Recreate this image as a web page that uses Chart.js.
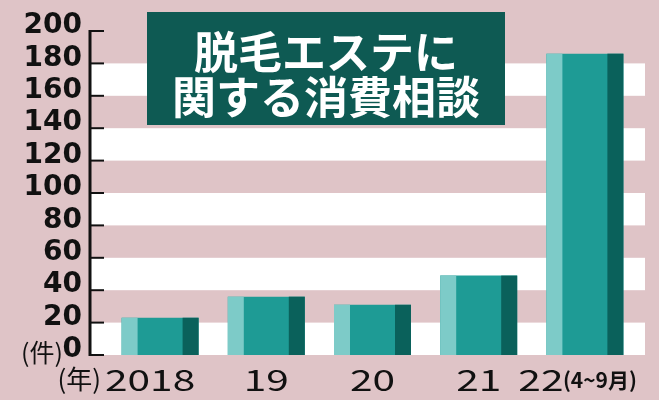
<!DOCTYPE html>
<html>
<head>
<meta charset="utf-8">
<script src="https://cdn.jsdelivr.net/npm/chart.js@4.4.1/dist/chart.umd.min.js"></script>
<style>
  html, body { margin: 0; padding: 0; background: #dfc4c7; }
  #wrap { width: 659px; height: 400px; }
</style>
</head>
<body>
<div id="wrap"><canvas id="c"></canvas></div>
<script>
// data
const years = ['2018', '19', '20', '21', '22'];
const counts = [23, 36, 31, 49, 186];
const yTicks = [0, 20, 40, 60, 80, 100, 120, 140, 160, 180, 200];
const titleLines = ['脱毛エステに', '関する消費相談'];

const PINK = '#dfc4c7';
const LIGHT = '#7dcbc8';
const MID = '#1e9b95';
const DARK = '#0a615b';
const BOX = '#0e5a53';

// background, white bands and the axis line with its little ticks
const backdrop = {
    id: 'backdrop',
    beforeDraw(chart) {
        const ctx = chart.ctx;
        ctx.save();
        ctx.fillStyle = PINK;
        ctx.fillRect(0, 0, chart.width, chart.height);
        const y = chart.scales.y;
        ctx.fillStyle = '#ffffff';
        for (let v = 0; v < 200; v += 40) {
            const top = y.getPixelForValue(v + 20);
            const bot = y.getPixelForValue(v);
            ctx.fillRect(90, top, 555, bot - top);
        }
        ctx.restore();
    },
    afterDraw(chart) {
        const ctx = chart.ctx;
        const y = chart.scales.y;
        const x = chart.scales.x;
        ctx.save();
        ctx.strokeStyle = '#111';
        ctx.lineWidth = 3;
        ctx.beginPath();
        ctx.moveTo(90, y.getPixelForValue(200) - 1);
        ctx.lineTo(90, y.getPixelForValue(0) + 1);
        ctx.stroke();
        ctx.lineWidth = 2;
        yTicks.forEach(v => {
            const py = y.getPixelForValue(v);
            ctx.beginPath();
            ctx.moveTo(90, py);
            ctx.lineTo(104, py);
            ctx.stroke();
        });

        // unit for the value axis
        ctx.fillStyle = '#111';
        ctx.textBaseline = 'middle';
        ctx.textAlign = 'right';
        ctx.font = '25px "Noto Sans CJK JP"';
        ctx.fillText('(件)', 63, y.getPixelForValue(0) - 3);

        // category labels
        const ly = 380;
        ctx.font = '29px "Noto Sans CJK JP"';
        ctx.textAlign = 'center';
        years.forEach((lab, i) => {
            let cx = x.getPixelForValue(i);
            if (i === 0) cx -= 10;
            if (i === 4) cx -= 44;
            ctx.save();
            ctx.translate(cx, ly);
            ctx.scale(1.4, 1);
            ctx.fillText(lab, 0, 0);
            ctx.restore();
        });
        ctx.textAlign = 'right';
        ctx.font = '26px "Noto Sans CJK JP"';
        ctx.fillText('(年)', 101, ly - 1);
        ctx.textAlign = 'left';
        ctx.font = 'bold 21px "Noto Sans CJK JP"';
        ctx.fillText('(4~9月)', x.getPixelForValue(4) - 22, ly);

        // title box
        ctx.fillStyle = BOX;
        ctx.fillRect(147, 12, 358, 113);
        ctx.fillStyle = '#ffffff';
        ctx.textAlign = 'center';
        ctx.font = 'bold 44px "Noto Sans CJK JP"';
        ctx.fillText(titleLines[0], 326, 52);
        ctx.fillText(titleLines[1], 326, 97);
        ctx.restore();
    }
};

// light left edge and dark right edge on each bar
const shading = {
    id: 'shading',
    afterDatasetsDraw(chart) {
        const ctx = chart.ctx;
        const meta = chart.getDatasetMeta(0);
        ctx.save();
        meta.data.forEach(bar => {
            const p = bar.getProps(['x', 'y', 'base', 'width'], true);
            const left = p.x - p.width / 2;
            const edge = p.width * 16 / 77;
            ctx.fillStyle = LIGHT;
            ctx.fillRect(left, p.y, edge, p.base - p.y);
            ctx.fillStyle = DARK;
            ctx.fillRect(left + p.width - edge, p.y, edge, p.base - p.y);
        });
        ctx.restore();
    }
};

new Chart(document.getElementById('c'), {
    type: 'bar',
    data: {
        labels: years,
        datasets: [{
            data: counts,
            backgroundColor: MID,
            borderWidth: 0,
            barPercentage: 0.725,
            categoryPercentage: 1
        }]
    },
    options: {
        responsive: true,
        maintainAspectRatio: false,
        animation: false,
        devicePixelRatio: 1,
        layout: { padding: { left: 0, right: 21, top: 31, bottom: 45 } },
        plugins: { legend: { display: false }, tooltip: { enabled: false } },
        scales: {
            x: { display: false },
            y: {
                min: 0,
                max: 200,
                afterFit(scale) {
                    scale.width = 107;
                    scale.paddingTop = 0;
                    scale.paddingBottom = 0;
                },
                grid: { display: false, drawTicks: false },
                border: { display: false },
                ticks: {
                    stepSize: 20,
                    autoSkip: false,
                    padding: 25,
                    labelOffset: -5,
                    color: '#111',
                    font: { family: 'DejaVu Sans', size: 28, weight: 'bold', lineHeight: 1 }
                }
            }
        }
    },
    plugins: [backdrop, shading]
});
</script>
</body>
</html>
